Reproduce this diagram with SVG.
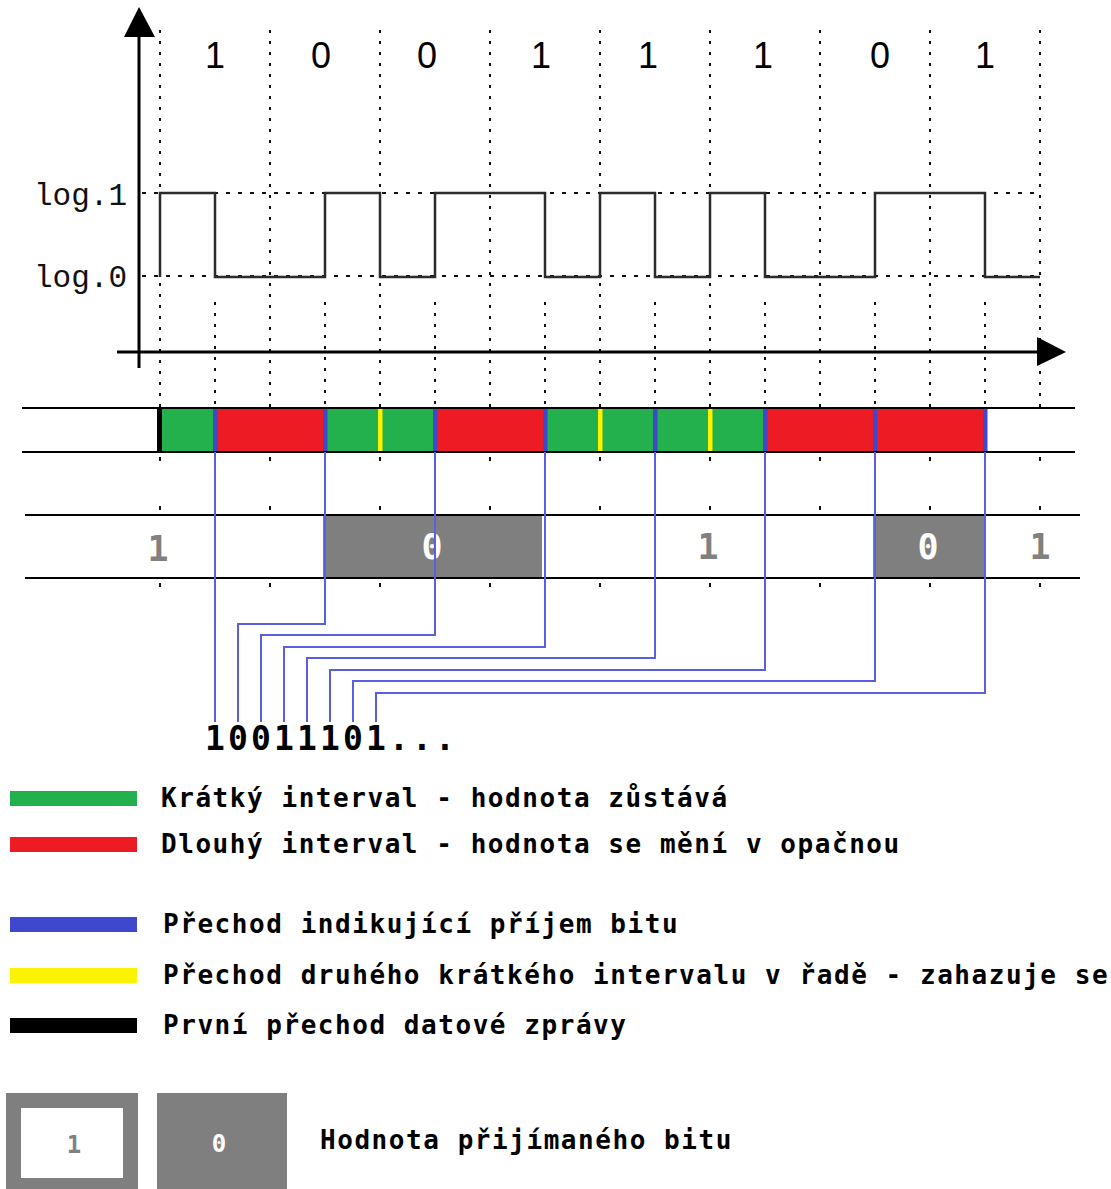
<svg xmlns="http://www.w3.org/2000/svg" width="1111" height="1189" viewBox="0 0 1111 1189">
<style>
  .grid{fill:none;stroke:#111;stroke-width:2;stroke-dasharray:3 8}
  .hgrid{fill:none;stroke:#111;stroke-width:2;stroke-dasharray:4 8}
  .dot{fill:#111}
  .axis{stroke:#000;stroke-width:3;fill:none}
  .head{fill:#000}
  .wave{fill:none;stroke:#2b2b2b;stroke-width:2.5;stroke-linejoin:miter}
  .bit{font-family:"Liberation Sans",Arial,sans-serif;font-size:36px;fill:#000;text-anchor:middle}
  .lvl{font-family:"Liberation Mono","DejaVu Sans Mono",monospace;font-size:31px;fill:#111}
  .rail{stroke:#000;stroke-width:2}
  .g{fill:#22b14c}.r{fill:#ed1c24}.b{fill:#3f48cc}.y{fill:#fff200}.k{fill:#000}
  .gray{fill:#7f7f7f}
  .conn{fill:none;stroke:#5a5ee0;stroke-width:2}
  .mono{font-family:"DejaVu Sans Mono","Liberation Mono",monospace;font-weight:bold}
  .val{font-size:35px;text-anchor:middle}
  .one{fill:#808080}.zero{fill:#fff}
  .seq{font-size:33px;fill:#000;text-anchor:middle}
  .leg{font-size:26px;letter-spacing:1.55px;fill:#000}
  .small{font-size:24px;text-anchor:middle}
</style>

<g id="grid">
  <path class="grid" d="M160,30V408M270,30V408M380,30V408M490,30V408M600,30V408M710,30V408M820,30V408M930,30V408M1040,30V408"/>
  <path class="grid" d="M215,302V408M325,302V408M435,302V408M545,302V408M655,302V408M765,302V408M875,302V408M985,302V408"/>
  <path class="hgrid" d="M142,193H1040M142,276H1040"/>
  <g class="dot">
    <rect x="159" y="457" width="2" height="4"/><rect x="269" y="457" width="2" height="4"/><rect x="379" y="457" width="2" height="4"/><rect x="489" y="457" width="2" height="4"/><rect x="599" y="457" width="2" height="4"/><rect x="709" y="457" width="2" height="4"/><rect x="819" y="457" width="2" height="4"/><rect x="929" y="457" width="2" height="4"/><rect x="1039" y="457" width="2" height="4"/>
    <rect x="159" y="506" width="2" height="4"/><rect x="269" y="506" width="2" height="4"/><rect x="379" y="506" width="2" height="4"/><rect x="489" y="506" width="2" height="4"/><rect x="599" y="506" width="2" height="4"/><rect x="709" y="506" width="2" height="4"/><rect x="819" y="506" width="2" height="4"/><rect x="929" y="506" width="2" height="4"/><rect x="1039" y="506" width="2" height="4"/>
    <rect x="159" y="583" width="2" height="4"/><rect x="269" y="583" width="2" height="4"/><rect x="379" y="583" width="2" height="4"/><rect x="489" y="583" width="2" height="4"/><rect x="599" y="583" width="2" height="4"/><rect x="709" y="583" width="2" height="4"/><rect x="819" y="583" width="2" height="4"/><rect x="929" y="583" width="2" height="4"/><rect x="1039" y="583" width="2" height="4"/>
  </g>
</g>

<g id="axes">
  <path class="axis" d="M139,35V368"/>
  <polygon class="head" points="139,7 124,37 155,37"/>
  <path class="axis" d="M117,352H1038"/>
  <polygon class="head" points="1066,352 1037,337 1037,366"/>
</g>

<g id="level-labels">
  <text class="lvl" x="34" y="205">log.1</text>
  <text class="lvl" x="34" y="287">log.0</text>
</g>

<g id="bit-labels">
  <text class="bit" x="215" y="68">1</text>
  <text class="bit" x="321" y="68">0</text>
  <text class="bit" x="427" y="68">0</text>
  <text class="bit" x="541" y="68">1</text>
  <text class="bit" x="648" y="68">1</text>
  <text class="bit" x="763" y="68">1</text>
  <text class="bit" x="880" y="68">0</text>
  <text class="bit" x="985" y="68">1</text>
</g>

<g id="waveform">
  <path class="wave" d="M160,277V193H215V277H325V193H380V277H435V193H545V277H600V193H655V277H710V193H765V277H875V193H985V277H1040"/>
</g>

<g id="transition-bar">
  <rect class="g" x="160" y="409" width="55" height="42"/>
  <rect class="r" x="215" y="409" width="110" height="42"/>
  <rect class="g" x="325" y="409" width="110" height="42"/>
  <rect class="r" x="435" y="409" width="110" height="42"/>
  <rect class="g" x="545" y="409" width="220" height="42"/>
  <rect class="r" x="765" y="409" width="220" height="42"/>
  <rect class="k" x="157" y="409" width="5" height="42"/>
  <rect class="b" x="213" y="409" width="5" height="42"/>
  <rect class="b" x="323" y="409" width="4.5" height="42"/>
  <rect class="y" x="378" y="409" width="4.5" height="42"/>
  <rect class="b" x="433" y="409" width="4.5" height="42"/>
  <rect class="b" x="543" y="409" width="4.5" height="42"/>
  <rect class="y" x="598" y="409" width="4.5" height="42"/>
  <rect class="b" x="653" y="409" width="4.5" height="42"/>
  <rect class="y" x="708" y="409" width="4.5" height="42"/>
  <rect class="b" x="763" y="409" width="4.5" height="42"/>
  <rect class="b" x="873" y="409" width="4.5" height="42"/>
  <rect class="b" x="983" y="409" width="4.5" height="42"/>
  <path class="rail" d="M22,408H1075M22,452H1075"/>
</g>

<g id="bit-value-bar">
  <rect class="gray" x="323" y="516" width="219" height="62"/>
  <rect class="gray" x="873" y="516" width="111" height="62"/>
  <path class="rail" d="M25,515H1080M25,578H1080"/>
  <text class="mono val one" x="158" y="561">1</text>
  <text class="mono val zero" x="432" y="559">0</text>
  <text class="mono val one" x="708" y="559">1</text>
  <text class="mono val zero" x="928" y="559">0</text>
  <text class="mono val one" x="1040" y="559">1</text>
</g>

<g id="connectors">
  <path class="conn" d="M215,452V722"/>
  <path class="conn" d="M325,452V624H238V722"/>
  <path class="conn" d="M435,452V635H261V722"/>
  <path class="conn" d="M545,452V647H284V722"/>
  <path class="conn" d="M655,452V658H307V722"/>
  <path class="conn" d="M765,452V670H330V722"/>
  <path class="conn" d="M875,452V681H353V722"/>
  <path class="conn" d="M985,452V693H376V722"/>
</g>

<g id="decoded-bits">
  <text class="mono seq" x="215 238 261 284 307 330 353 376 399 422 445" y="750">10011101...</text>
</g>

<g id="legend-short">
  <rect class="g" x="10" y="791" width="127" height="15"/>
  <text class="mono leg" x="161" y="807">Krátký interval - hodnota zůstává</text>
</g>
<g id="legend-long">
  <rect class="r" x="10" y="837" width="127" height="15"/>
  <text class="mono leg" x="161" y="853">Dlouhý interval - hodnota se mění v opačnou</text>
</g>
<g id="legend-bit-transition">
  <rect class="b" x="10" y="917" width="127" height="15"/>
  <text class="mono leg" x="163" y="933">Přechod indikující příjem bitu</text>
</g>
<g id="legend-discarded">
  <rect class="y" x="10" y="968" width="127" height="15"/>
  <text class="mono leg" x="163" y="984">Přechod druhého krátkého intervalu v řadě - zahazuje se</text>
</g>
<g id="legend-first">
  <rect class="k" x="10" y="1018" width="127" height="15"/>
  <text class="mono leg" x="163" y="1034">První přechod datové zprávy</text>
</g>
<g id="legend-value">
  <rect class="gray" x="6" y="1093" width="132" height="96"/>
  <rect fill="#fff" x="21" y="1108" width="102" height="70"/>
  <text class="mono small one" x="74" y="1153">1</text>
  <rect class="gray" x="157" y="1093" width="130" height="96"/>
  <text class="mono small zero" x="219" y="1152">0</text>
  <text class="mono leg" x="320" y="1149">Hodnota přijímaného bitu</text>
</g>
</svg>
